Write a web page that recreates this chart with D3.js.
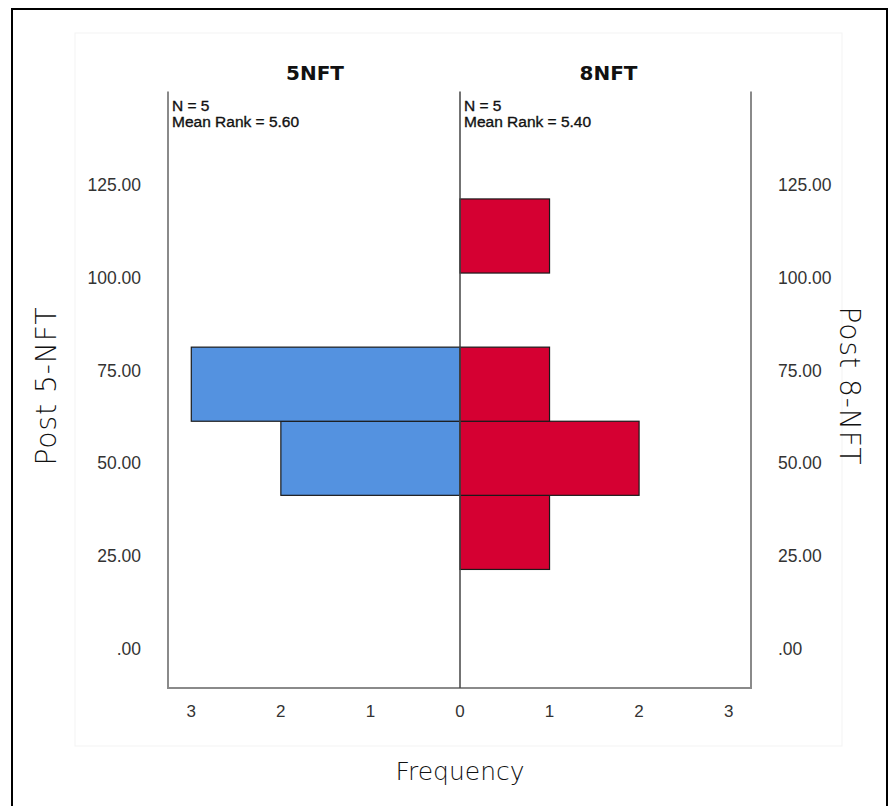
<!DOCTYPE html>
<html>
<head>
<meta charset="utf-8">
<script src="https://cdn.jsdelivr.net/npm/d3@7"></script>
<style>
  body { margin: 0; background: #fff; }
  text { font-family: "Liberation Sans", Arial, sans-serif; }
</style>
</head>
<body>
<script>
// bins of the post score, one count per bin for each group
const binStarts = [20, 40, 60, 80, 100];
const binWidth = 20;
const counts5 = [0, 2, 3, 0, 0];
const counts8 = [1, 2, 1, 0, 1];
const yTicks = [0, 25, 50, 75, 100, 125];
const xTicks = [0, 1, 2, 3];
const groups = ["5NFT", "8NFT"];
const stats = [["N = 5", "Mean Rank = 5.60"], ["N = 5", "Mean Rank = 5.40"]];

const W = 888, H = 806;
const svg = d3.select("body").append("svg")
    .attr("width", W)
    .attr("height", H);

// outer frame and faint chart panel
svg.append("rect")
    .attr("x", 12).attr("y", 9)
    .attr("width", 875).attr("height", 810)
    .attr("fill", "none")
    .attr("stroke", "#000")
    .attr("stroke-width", 2);

svg.append("rect")
    .attr("x", 75).attr("y", 33)
    .attr("width", 767).attr("height", 713)
    .attr("fill", "none")
    .attr("stroke", "#f3f3f3");

const x0 = 460;       // zero line
const pLeft = 168, pRight = 751, pTop = 91.5, pBottom = 688;

const y = d3.scaleLinear().domain([-12, 149]).range([pBottom, pTop]);
const xL = d3.scaleLinear().domain([0, 3.26]).range([x0, pLeft]);
const xR = d3.scaleLinear().domain([0, 3.25]).range([x0, pRight]);

// bars
const bars5 = binStarts.map((b, i) => ({ b: b, n: counts5[i] })).filter(d => d.n > 0);
const bars8 = binStarts.map((b, i) => ({ b: b, n: counts8[i] })).filter(d => d.n > 0);

svg.append("g").selectAll("rect")
    .data(bars5)
    .enter().append("rect")
    .attr("x", d => xL(d.n))
    .attr("y", d => y(d.b + binWidth))
    .attr("width", d => xL(0) - xL(d.n))
    .attr("height", d => y(d.b) - y(d.b + binWidth))
    .attr("fill", "#5492e0")
    .attr("stroke", "#1a1a1a")
    .attr("stroke-width", 1.2);

svg.append("g").selectAll("rect")
    .data(bars8)
    .enter().append("rect")
    .attr("x", x0)
    .attr("y", d => y(d.b + binWidth))
    .attr("width", d => xR(d.n) - x0)
    .attr("height", d => y(d.b) - y(d.b + binWidth))
    .attr("fill", "#d50032")
    .attr("stroke", "#1a1a1a")
    .attr("stroke-width", 1.2);

// frame lines
const axisCol = "#8a8a8a";
svg.append("path")
    .attr("d", `M${pLeft},${pTop}V${pBottom}H${pRight}V${pTop}`)
    .attr("fill", "none")
    .attr("stroke", axisCol)
    .attr("stroke-width", 2);
svg.append("line")
    .attr("x1", x0).attr("x2", x0)
    .attr("y1", pTop).attr("y2", pBottom)
    .attr("stroke", "#444")
    .attr("stroke-width", 1.5);

// y tick labels, both sides
const fmt = v => v === 0 ? ".00" : d3.format(".2f")(v);
const yAxisL = d3.axisLeft(y).tickValues(yTicks).tickFormat(fmt).tickSize(0).tickPadding(27);
const yAxisR = d3.axisRight(y).tickValues(yTicks).tickFormat(fmt).tickSize(0).tickPadding(27);

const gl = svg.append("g").attr("transform", `translate(${pLeft},0)`).call(yAxisL);
const gr = svg.append("g").attr("transform", `translate(${pRight},0)`).call(yAxisR);
[gl, gr].forEach(g => {
    g.select(".domain").remove();
    g.selectAll("text")
        .attr("dy", "0.6em")
        .style("font-family", "'Liberation Sans', Arial, sans-serif")
        .style("font-size", "17.5px")
        .attr("fill", "#333");
});

// x tick labels, mirrored around zero
const xlab = svg.append("g");
xlab.selectAll("text.l")
    .data(xTicks.filter(d => d > 0))
    .enter().append("text")
    .attr("x", d => xL(d))
    .attr("y", 717)
    .attr("text-anchor", "middle")
    .style("font-size", "17px")
    .attr("fill", "#333")
    .text(d => d);
xlab.selectAll("text.r")
    .data(xTicks)
    .enter().append("text")
    .attr("x", d => xR(d))
    .attr("y", 717)
    .attr("text-anchor", "middle")
    .style("font-size", "17px")
    .attr("fill", "#333")
    .text(d => d);

// panel headings and stats
const panelCx = [(pLeft + x0) / 2 + 1, (x0 + pRight) / 2 + 3];
svg.selectAll("text.head")
    .data(groups)
    .enter().append("text")
    .attr("x", (d, i) => panelCx[i])
    .attr("y", 80)
    .attr("text-anchor", "middle")
    .style("font-family", "'DejaVu Sans', sans-serif")
    .style("font-size", "20px")
    .style("font-weight", "bold")
    .attr("fill", "#111")
    .text(d => d);

const statX = [pLeft + 4, x0 + 4];
stats.forEach((lines, i) => {
    lines.forEach((t, j) => {
        svg.append("text")
            .attr("x", statX[i])
            .attr("y", 111 + j * 16)
            .style("font-size", "15.5px")
            .attr("fill", "#111")
            .attr("stroke", "#111")
            .attr("stroke-width", 0.35)
            .text(t);
    });
});

// axis titles
const titleFont = "'DejaVu Sans', sans-serif";
svg.append("text")
    .attr("x", x0)
    .attr("y", 780)
    .attr("text-anchor", "middle")
    .style("font-family", titleFont)
    .style("font-size", "25px")
    .style("font-weight", "200")
    .attr("fill", "#111")
    .text("Frequency");

svg.append("text")
    .attr("transform", `translate(56,386) rotate(-90)`)
    .attr("text-anchor", "middle")
    .style("font-family", titleFont)
    .style("font-size", "28px")
    .style("font-weight", "200")
    .style("letter-spacing", "1px")
    .attr("fill", "#111")
    .text("Post 5-NFT");

svg.append("text")
    .attr("transform", `translate(840,386) rotate(90)`)
    .attr("text-anchor", "middle")
    .style("font-family", titleFont)
    .style("font-size", "28px")
    .style("font-weight", "200")
    .style("letter-spacing", "1px")
    .attr("fill", "#111")
    .text("Post 8-NFT");
</script>
</body>
</html>
